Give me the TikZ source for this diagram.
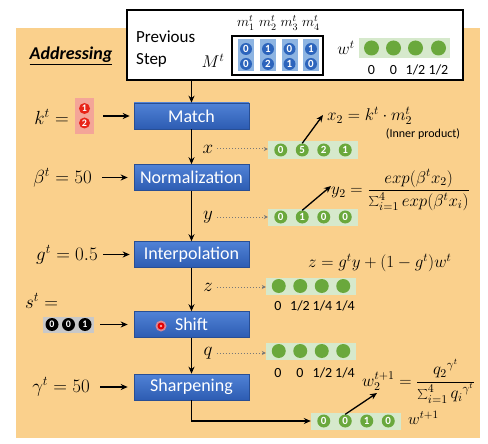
\documentclass[tikz,border=0pt]{standalone}
\usepackage{fix-cm}
\usepackage{fontspec}
\setmainfont{Carlito}
\usetikzlibrary{arrows.meta}
\definecolor{orangebg}{RGB}{250,208,140}
\definecolor{boxtop}{RGB}{80,130,214}
\definecolor{boxbot}{RGB}{45,92,178}
\definecolor{boxedge}{RGB}{40,78,148}
\definecolor{glight}{RGB}{214,233,204}
\definecolor{gdark}{RGB}{106,168,60}
\definecolor{mlight}{RGB}{141,180,226}
\definecolor{mdark}{RGB}{44,100,188}
\definecolor{kred}{RGB}{232,36,24}
\definecolor{kpink}{RGB}{244,165,152}
\definecolor{sgray}{RGB}{200,200,200}
\definecolor{dotgray}{RGB}{120,120,120}
\newcommand{\myfs}[1]{\fontsize{#1}{#1}\selectfont}
\begin{document}
\begin{tikzpicture}[x=1pt,y=-1pt,
  stepbox/.style={draw=boxedge, line width=0.6pt, top color=boxtop, bottom color=boxbot,
    minimum width=115pt, minimum height=26pt, inner sep=0pt, text=white, font=\myfs{18}},
  flow/.style={-{Stealth[length=7pt,width=6pt]}, line width=1.3pt},
  ptr/.style={-{Stealth[length=7pt,width=6pt]}, line width=1.3pt},
  dotflow/.style={dotted, line width=1pt, draw=dotgray, -{Stealth[length=4pt,width=4pt]}},
  gbox/.style={fill=glight, minimum width=90pt, minimum height=17pt, inner sep=0pt},
  gdot/.style={circle, fill=gdark, minimum size=14pt, inner sep=0pt},
  gnum/.style={circle, fill=gdark, minimum size=13pt, inner sep=0pt, text=white, font=\bfseries\myfs{11}},
  mnum/.style={circle, fill=mdark, minimum size=12pt, inner sep=0pt, text=white, font=\bfseries\myfs{11}},
  knum/.style={circle, fill=kred, minimum size=11pt, inner sep=0pt, text=white, font=\bfseries\myfs{10}},
  snum/.style={circle, fill=black, minimum size=13pt, inner sep=0pt, text=white, font=\bfseries\myfs{10}},
  mathlbl/.style={font=\myfs{19}, inner sep=0pt},
  formula/.style={font=\myfs{17}, inner sep=0pt, anchor=west},
  smalllbl/.style={font=\myfs{14}, inner sep=0pt},
]
\useasboundingbox (0,0) rectangle (488,444);
\fill[orangebg] (16,28) rectangle (480,438);

% previous step box
\node[draw, line width=1.6pt, fill=white, minimum width=336pt, minimum height=70pt, inner sep=0pt] (prev) at (295,45) {};
\node[anchor=west, font=\fontsize{17}{22}\selectfont, align=left, inner sep=0pt] (prevtxt) at (136,49) {Previous\\Step};
\node[font=\myfs{17}, inner sep=0pt] (Mlbl) at (213,61) {$M^t$};
\node[draw, line width=1.2pt, fill=white, minimum width=91pt, minimum height=39pt, inner sep=0pt] (mbox) at (277.5,55.5) {};
\foreach \i/\x/\a/\b in {1/246/0/0, 2/268/1/2, 3/289.5/0/1, 4/311/1/0} {
  \fill[mlight] ({\x-8},39.5) rectangle ({\x+8},71.5);
  \node[mnum] (m\i a) at (\x,49) {\a};
  \node[mnum] (m\i b) at (\x,64) {\b};
  \node[font=\myfs{14}, inner sep=0pt] (h\i) at (\x,23) {$m_{\i}^t$};
}
\node[font=\myfs{17}, inner sep=0pt] (wtlbl) at (346,48) {$w^t$};
\node[gbox, minimum width=91pt, minimum height=20pt] (wtbox) at (404.5,48) {};
\foreach \i/\dx/\v in {1/-33/0, 2/-11/0, 3/11/1\slash 2, 4/34/1\slash 2} {
  \node[gdot, minimum size=15pt] (wt\i) at ({404.5+\dx},48) {};
  \node[smalllbl] (wtv\i) at ({404.5+\dx},70) {\v};
}

% title
\node[font=\bfseries\itshape\myfs{18}, inner sep=0pt] (addr) at (71,56) {\underline{Addressing}};

% steps
\node[stepbox] (match) at (191.5,116) {Match};
\node[stepbox] (norm) at (191.5,177.5) {Normalization};
\node[stepbox] (interp) at (191.5,254.5) {Interpolation};
\node[stepbox] (shift) at (191.5,324.5) {Shift};
\node[stepbox] (sharp) at (191.5,387) {Sharpening};

% red pointer dot on Shift
\fill[red!45, opacity=0.8] (161,326) circle (5.5);
\fill[red!90!black] (161,326) circle (3.5);
\fill[white!65!red] (161,326) circle (1.3);

% inputs
\node[mathlbl, anchor=east] (klbl) at (69,117) {$k^t =$};
\node[fill=kpink, minimum width=19pt, minimum height=36pt, inner sep=0pt] (kvec) at (84.5,116) {};
\node[knum] (k1) at (84.5,108.5) {1};
\node[knum] (k2) at (84.5,123) {2};
\draw[flow, shorten <=9pt, shorten >=4pt] (kvec.east) -- (match.west);

\node[mathlbl, anchor=east] (blbl) at (92,177.5) {$\beta^t = 50$};
\draw[flow, shorten <=10pt, shorten >=6pt] (blbl.east) -- (norm.west);

\node[mathlbl, anchor=east] (glbl) at (98,254.5) {$g^t = 0.5$};
\draw[flow, shorten <=5pt, shorten >=4pt] (glbl.east) -- (interp.west);

\node[mathlbl, anchor=west] (slbl) at (25,301) {$s^t =$};
\node[fill=sgray, minimum width=51pt, minimum height=16pt, inner sep=0pt] (svec) at (68.5,324.5) {};
\node[snum] (s1) at (52,324.5) {0};
\node[snum] (s2) at (68.5,324.5) {0};
\node[snum] (s3) at (85,324.5) {1};
\draw[flow, shorten <=6pt, shorten >=6pt] (svec.east) -- (shift.west);

\node[mathlbl, anchor=east] (gamlbl) at (90,387) {$\gamma^t = 50$};
\draw[flow, shorten <=10pt, shorten >=6pt] (gamlbl.east) -- (sharp.west);

% vertical flow
\draw[flow] (prev.south -| match.north) -- (match.north);
\draw[flow] (match) -- (norm);
\draw[flow] (norm) -- (interp);
\draw[flow] (interp) -- (shift);
\draw[flow] (shift) -- (sharp);

% green vectors
\node[gbox] (xbox) at (313,150) {};
\node[gbox] (ybox) at (313,217) {};
\node[gbox] (zbox) at (311,286) {};
\node[gbox] (qbox) at (311,351) {};
\node[gbox] (wbox) at (356,421) {};
\foreach \i/\dx/\a/\b/\c in {1/-32.25/0/0/0, 2/-10.75/5/1/0, 3/10.75/2/0/1, 4/32.25/1/0/0} {
  \node[gnum] (xc\i) at ({313+\dx},150) {\a};
  \node[gnum] (yc\i) at ({313+\dx},217) {\b};
  \node[gdot] (zc\i) at ({311+\dx},286) {};
  \node[gdot] (qc\i) at ({311+\dx},351) {};
  \node[gnum] (wc\i) at ({356+\dx},421) {\c};
}
\foreach \i/\dx/\v in {1/-33/0, 2/-11/1\slash 2, 3/11.5/1\slash 4, 4/34/1\slash 4} {
  \node[smalllbl] (zv\i) at ({311+\dx},306) {\v};
}
\foreach \i/\dx/\v in {1/-33/0, 2/-11/0, 3/11.5/1\slash 2, 4/34/1\slash 4} {
  \node[smalllbl] (qv\i) at ({311+\dx},373) {\v};
}
\draw[flow] (sharp.south) |- (wbox.west);

% dotted connectors
\node[mathlbl] (xl) at (208,149) {$x$};
\node[mathlbl] (yl) at (208,217) {$y$};
\node[mathlbl] (zl) at (208,287) {$z$};
\node[mathlbl] (ql) at (208,353) {$q$};
\draw[dotflow, shorten <=4pt] (xl.east) -- (xl.east -| xbox.west);
\draw[dotflow, shorten <=4pt] (yl.east) -- (yl.east -| ybox.west);
\draw[dotflow, shorten <=4pt] (zl.east) -- (zl.east -| zbox.west);
\draw[dotflow, shorten <=4pt] (ql.east) -- (ql.east -| qbox.west);

% formulas
\node[formula] (x2f) at (327,116) {$x_2 = k^t \cdot m_2^t$};
\node[font=\myfs{12}, inner sep=0pt] (inner) at (423,134) {(Inner product)};
\node[formula] (y2f) at (331,190) {$\displaystyle y_2 = \frac{exp(\beta^t x_2)}{\textstyle\sum_{i=1}^{4} exp(\beta^t x_i)}$};
\node[formula] (zf) at (308,263) {$z = g^t y + (1-g^t) w^t$};
\node[formula] (wf) at (362,381) {$\displaystyle w_2^{t+1} = \frac{{q_2}^{\gamma^t}}{\textstyle\sum_{i=1}^{4} {q_i}^{\gamma^t}}$};
\node[font=\myfs{16}, anchor=west, inner sep=0pt] (wnext) at (408,418) {$w^{t+1}$};

\coordinate (x2tip) at (323,115);
\coordinate (y2tip) at (331,186);
\coordinate (wtip) at (377,393);
\draw[ptr] (xc2.north) -- (x2tip);
\draw[ptr] (yc2.north) -- (y2tip);
\draw[ptr] (wc2.north) -- (wtip);
\end{tikzpicture}
\end{document}
